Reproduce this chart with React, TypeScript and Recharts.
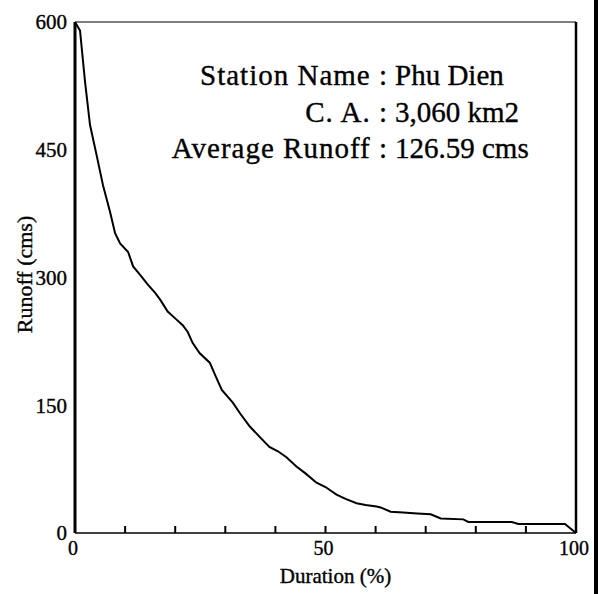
import { LineChart, Line, XAxis, YAxis, ReferenceLine } from "recharts";

// flow duration curve
const duration = [
  0, 1, 2, 3, 4.3, 5.6, 7, 8, 9, 10.6, 11.6, 13, 14.5, 16, 17, 18.5, 20, 21.5, 22.5, 23.5,
  24.9, 26.9, 28, 29.3, 31.5, 33, 34.9, 37, 38.8, 40.5, 42.2, 44.2, 46, 48.2, 50, 52.2, 54,
  56.2, 58, 60.2, 61, 63, 65.5, 68.3, 71, 73, 77.5, 78.5, 87.2, 88.5, 97.8, 100,
];
const runoff = [
  600, 590, 530, 479, 444, 408, 377, 352, 340, 330, 313, 303, 292, 282, 274, 260, 252, 244, 236, 223,
  211, 200, 185, 168, 153, 140, 125, 112, 101, 96, 89, 78, 70, 59, 54, 45, 40,
  35, 33, 31, 30, 25, 24, 23, 22, 17, 16, 13, 13, 10.5, 10.5, 0,
];

const xTicks = [0, 10, 20, 30, 40, 50, 60, 70, 80, 90, 100];
const xTickLabels = [0, 50, 100];
const yTicks = [0, 150, 300, 450, 600];

const infoLabels = ["Station Name :", "C. A. :", "Average Runoff :"];
const infoValues = ["Phu Dien", "3,060 km2", "126.59 cms"];

const data = duration.map((d, i) => ({ duration: d, runoff: runoff[i] }));

const FONT = "'Liberation Serif', 'Times New Roman', serif";
// scanned text looks a bit heavier than a plain serif
const INK = { fill: "#000", stroke: "#000", strokeWidth: 0.35 };

function XTick(props: any) {
  const { x, y, payload } = props;
  return (
    <g>
      <line x1={x} x2={x} y1={y} y2={y - 7} stroke="#000" strokeWidth={2} />
      {xTickLabels.includes(payload.value) && (
        <text x={x - 2} y={y + 22} textAnchor="middle" fontFamily={FONT} fontSize={20} {...INK}>
          {payload.value}
        </text>
      )}
    </g>
  );
}

export default function App() {
  return (
    <div style={{ position: "absolute", left: 0, top: 0, width: 600, height: 594, background: "#fff" }}>
      <LineChart width={600} height={594} data={data} margin={{ top: 22, right: 24, left: 0, bottom: 0 }}>
        <XAxis
          dataKey="duration"
          type="number"
          domain={[0, 100]}
          ticks={xTicks}
          interval={0}
          height={61}
          tickSize={0}
          tickMargin={0}
          tickLine={false}
          axisLine={{ stroke: "#000", strokeWidth: 1.5 }}
          tick={<XTick />}
          label={{
            content: (p: any) => {
              const vb = p.viewBox;
              return (
                <text x={vb.x + vb.width / 2 + 10} y={vb.y + 50} textAnchor="middle" fontFamily={FONT} fontSize={21} {...INK}>
                  Duration (%)
                </text>
              );
            },
          }}
        />
        <YAxis
          type="number"
          domain={[0, 600]}
          ticks={yTicks}
          interval={0}
          width={75}
          tickSize={0}
          tickMargin={8}
          tickLine={false}
          axisLine={{ stroke: "#000", strokeWidth: 3 }}
          tick={{ ...INK, fontSize: 21, fontFamily: FONT }}
          label={{
            content: (p: any) => {
              const vb = p.viewBox;
              const cx = vb.x + 24;
              const cy = vb.y + vb.height / 2 - 3;
              return (
                <text
                  x={cx}
                  y={cy}
                  transform={`rotate(-90 ${cx} ${cy})`}
                  textAnchor="middle"
                  dominantBaseline="central"
                  fontFamily={FONT}
                  fontSize={22}
                  {...INK}
                >
                  Runoff (cms)
                </text>
              );
            },
          }}
        />
        <ReferenceLine y={600} stroke="#000" strokeWidth={1.2} />
        <ReferenceLine x={100} stroke="#000" strokeWidth={2.5} />
        <Line
          type="linear"
          dataKey="runoff"
          stroke="#000"
          strokeWidth={2}
          dot={false}
          isAnimationActive={false}
        />
      </LineChart>
      <svg width={600} height={594} style={{ position: "absolute", left: 0, top: 0, pointerEvents: "none" }}>
        {infoLabels.map((t, i) => (
          <text key={t} x={388} y={85 + i * 36.5} textAnchor="end" letterSpacing={1} fontFamily={FONT} fontSize={29} {...INK}>
            {t}
          </text>
        ))}
        {infoValues.map((t, i) => (
          <text key={t} x={395} y={85 + i * 36.5} textAnchor="start" fontFamily={FONT} fontSize={29} {...INK}>
            {t}
          </text>
        ))}
      </svg>
      <div style={{ position: "absolute", left: 594, top: 0, width: 4, height: 594, background: "#000" }} />
    </div>
  );
}
